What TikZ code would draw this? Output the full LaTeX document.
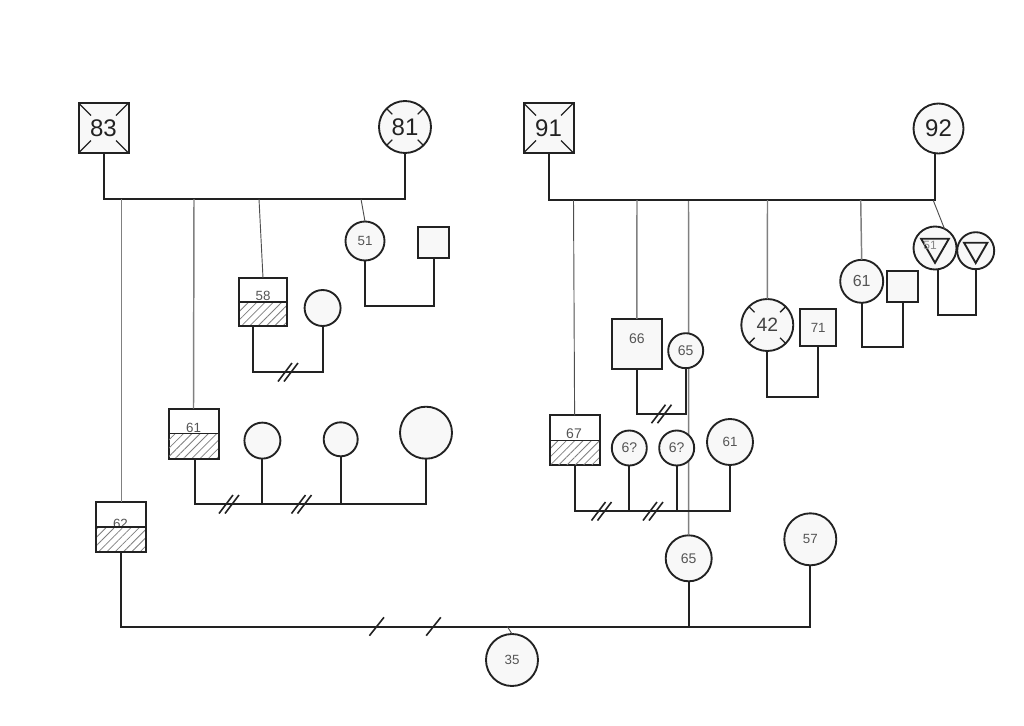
\documentclass[tikz,border=0pt]{standalone}
\usepackage{fontspec}
\setmainfont{Liberation Sans}
\usepackage{tikz}
\usetikzlibrary{shapes.geometric}
\usetikzlibrary{patterns.meta}
\definecolor{shade}{HTML}{F8F8F8}
\definecolor{ink}{HTML}{222222}
\definecolor{num}{HTML}{555555}
\tikzstyle{every node}=[inner sep=0pt,outer sep=0pt,text=num,font=\fontsize{10.5pt}{12pt}\selectfont]
\tikzstyle{wire}=[draw=ink,line width=1.5pt,line join=miter]
\tikzstyle{drop}=[draw=gray,line width=1.1pt]
\tikzstyle{thindrop}=[draw=ink!80,line width=0.7pt]
\tikzstyle{tick}=[draw=ink,line width=1.2pt]
\tikzstyle{big}=[text=ink,font=\fontsize{18pt}{20pt}\selectfont]
\tikzstyle{mid}=[text=ink!85,font=\fontsize{14.5pt}{16pt}\selectfont]
\tikzstyle{small}=[font=\fontsize{10pt}{12pt}\selectfont]
\tikzset{
  disc/.style={circle,draw=ink,line width=1.4pt,fill=shade,minimum size=#1*0.75pt},
  sq/.style={rectangle,draw=ink,line width=1.5pt,fill=shade,minimum size=#1*0.75pt},
  blankbox/.style={rectangle,draw=ink,line width=1.5pt,fill=white,minimum size=#1*0.75pt},
  hatchbox/.style={rectangle,draw=ink,line width=1.4pt,minimum width=#1*0.75pt,minimum height=#1*0.375pt,
    pattern={Lines[angle=45,distance=4.4pt,line width=0.6pt]},pattern color=gray},
  crossed/.style={path picture={
    \draw[ink,line width=1pt] (path picture bounding box.north west) -- ++(12.5,12.5);
    \draw[ink,line width=1pt] (path picture bounding box.north east) -- ++(-12.5,12.5);
    \draw[ink,line width=1pt] (path picture bounding box.south west) -- ++(12.5,-12.5);
    \draw[ink,line width=1pt] (path picture bounding box.south east) -- ++(-12.5,-12.5);}},
  ticked/.style={path picture={
    \foreach \a in {45,135,225,315}
      \draw[ink,line width=1pt] (path picture bounding box.center) ++(\a:18) -- ++(\a:9);}},
  tri/.style={regular polygon,regular polygon sides=3,shape border rotate=180,draw=ink,line width=1.4pt,minimum size=#1*0.75pt}
}
\newcommand{\hash}[2]{%
  \draw[tick] (#1-10,#2+9.5) -- (#1+4,#2-9);
  \draw[tick] (#1-4,#2+9.5) -- (#1+10,#2-9);}
\newcommand{\stroke}[2]{\draw[tick] (#1-7.3,#2+9.2) -- (#1+7.3,#2-9.2);}

\begin{document}
\begin{tikzpicture}[x=0.75pt,y=-0.75pt]
  \useasboundingbox (0,0) rectangle (1024,725);
  % top buses
  \coordinate (busl) at (250,199);
  \coordinate (busr) at (750,199.5);
  % lower 65 comes first, its line runs behind the other nodes
  \node [disc=46] (n65c) at (688.7,558.3) {65};
  \coordinate (t65) at (688.5,200);
  \draw [drop] (t65) -- (n65c.north);

  % left family
  \node [sq=50,crossed,big] (n83) at (103.5,128) {83};
  \node [disc=52,ticked,big] (n81) at (405,127) {81};
  \draw [wire] (n83.south) |- (busl) -| (n81.south);

  \node [blankbox=50] (box62) at (121.3,527) {};
  \node [small] (txt62) at (120.5,523.5) {62};
  \node [hatchbox=50] (hatch62) at (121.3,539.5) {};
  \coordinate (t62) at (121.3,199);
  \draw [drop] (t62) -- (box62.north);

  \node [blankbox=50] (box61) at (193.5,433.5) {};
  \node [small] (txt61) at (193.5,428) {61};
  \node [hatchbox=50] (hatch61) at (193.5,446) {};
  \coordinate (t61) at (194,199);
  \draw [drop] (t61) -- (box61.north);
  \node [disc=36] (c61a) at (262.4,440.6) {};
  \node [disc=34] (c61b) at (340.7,439.3) {};
  \node [disc=52] (c61c) at (426,432.7) {};
  \coordinate (bus61) at (300,504);
  \draw [wire] ([xshift=1.4pt]box61.south) |- (bus61) -| (c61c.south);
  \draw [wire] (c61a.south) -- (c61a.south |- bus61);
  \draw [wire] (c61b.south) -- (c61b.south |- bus61);
  \hash{229}{504}
  \hash{301.5}{504}

  \node [blankbox=48] (box58) at (263,302) {};
  \node [small] (txt58) at (263,295.5) {58};
  \node [hatchbox=48] (hatch58) at (263,314) {};
  \coordinate (t58) at (259,199);
  \draw [thindrop] (t58) -- (box58.north);
  \node [disc=36] (c58) at (322.6,308) {};
  \coordinate (bus58) at (290,371.5);
  \draw [wire] ([xshift=-7.5pt]box58.south) |- (bus58) -| (c58.south);
  \hash{288}{372}

  \node [disc=39,small] (n51) at (365,241) {51};
  \node [sq=31] (s51) at (433.5,242.5) {};
  \coordinate (t51) at (361,199);
  \coordinate (bus51) at (400,306);
  \draw [thindrop] (t51) -- (n51.north);
  \draw [wire] (n51.south) |- (bus51) -| (s51.south);

  % lower bus
  \node [disc=52,small] (n57) at (810.3,539.3) {\raisebox{-1.5pt}{57}};
  \node [disc=52,small] (n35) at (512,660) {35};
  \coordinate (bus62) at (450,626.5);
  \draw [wire] (hatch62.south) |- (bus62) -| (n57.south);
  \draw [wire] (n65c.south) -- (n65c.south |- bus62);
  \coordinate (t35) at (507.3,626.5);
  \draw [thindrop] (t35) -- (n35.north);
  \stroke{376.7}{626.5}
  \stroke{433.5}{626.5}

  % right family
  \node [sq=50,crossed,big] (n91) at (548.5,128) {91};
  \node [disc=50,big] (n92) at (938.5,128.5) {92};
  \draw [wire] (n91.south) |- (busr) -| (n92.263);

  \node [blankbox=50] (box67) at (574.6,440.3) {};
  \node (txt67) at (574,434) {67};
  \node [hatchbox=50] (hatch67) at (574.6,453) {};
  \coordinate (t67) at (573.5,200);
  \draw [thindrop] (t67) -- (box67.north);
  \node [disc=35] (q1) at (629.3,448) {6?};
  \node [disc=35] (q2) at (676.7,448) {6?};
  \node [disc=46,small] (c61r) at (730,442) {\raisebox{-3pt}{61}};
  \coordinate (bus67) at (650,510.7);
  \draw [wire] (hatch67.south) |- (bus67) -| (c61r.south);
  \draw [wire] (q1.south) -- (q1.south |- bus67);
  \draw [wire] (q2.south) -- (q2.south |- bus67);
  \hash{601.5}{511}
  \hash{653}{511}

  \node [sq=50] (n66) at (636.8,343.8) {};
  \node (txt66) at (636.8,339) {66};
  \coordinate (t66) at (637,200);
  \draw [drop] (t66) -- (n66.north);
  \node [disc=35] (n65u) at (685.7,350.7) {65};
  \coordinate (bus66) at (660,414);
  \draw [wire] (n66.south) |- (bus66) -| (n65u.south);
  \hash{661.5}{413.7}

  \node [disc=52,ticked,mid] (n42) at (767.3,325) {42};
  \node [sq=36.5,small] (n71) at (818.2,327.5) {71};
  \coordinate (t42) at (767.5,200);
  \coordinate (bus42) at (790,397.3);
  \draw [drop] (t42) -- (n42.north);
  \draw [wire] (n42.south) |- (bus42) -| (n71.south);

  \node [disc=43,font=\fontsize{12pt}{14pt}\selectfont] (c61s) at (861.7,281.3) {61};
  \node [sq=31.5] (s61) at (902.7,286.7) {};
  \coordinate (t61s) at (860.7,200);
  \coordinate (bus61s) at (880,347.3);
  \draw [drop] (t61s) -- (c61s.north);
  \draw [wire] (c61s.south) |- (bus61s) -| (s61.south);

  \node [disc=43] (d1) at (935,248) {};
  \node [tri=32] (tri1) at (935,246.8) {};
  \node [font=\fontsize{9pt}{10pt}\selectfont,text=num!70] (txt51) at (930,245) {51};
  \node [disc=37] (d2) at (975.7,250.7) {};
  \node [tri=27] (tri2) at (975.7,249.5) {};
  \coordinate (t51r) at (933.3,200.5);
  \coordinate (bus51r) at (950,315);
  \draw [thindrop] (t51r) -- (d1.64);
  \draw [wire] ([xshift=2pt]d1.south) |- (bus51r) -| (d2.south);
\end{tikzpicture}
\end{document}
